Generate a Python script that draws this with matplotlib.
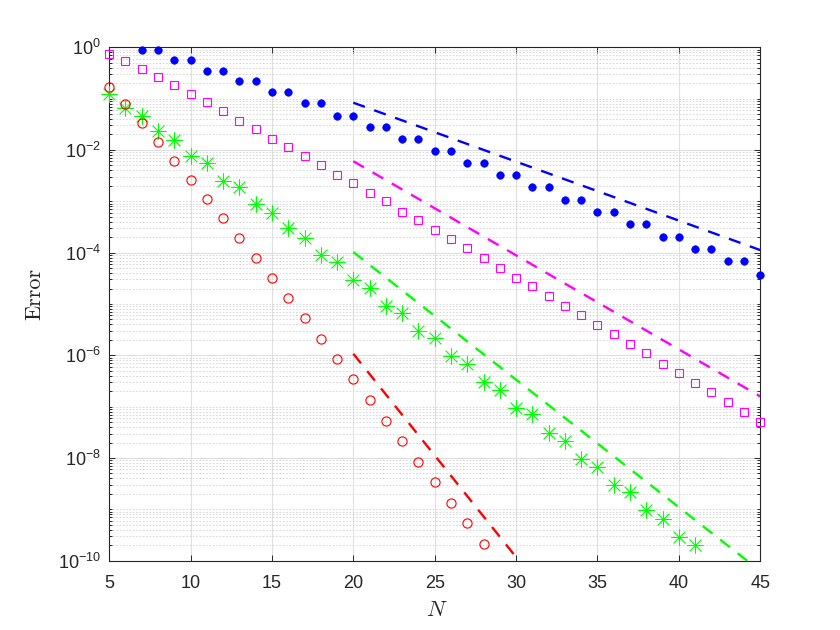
import numpy as np
import matplotlib
matplotlib.use("Agg")
import matplotlib.pyplot as plt
from matplotlib.path import Path
from matplotlib.ticker import FixedLocator, FuncFormatter, NullFormatter

plt.rcParams['font.family'] = ['Liberation Sans', 'DejaVu Sans']
plt.rcParams['mathtext.default'] = 'regular'

# ---------------- data (log10 of error) ----------------
N_blue = [7, 8, 9, 10, 11, 12, 13, 14, 15, 16, 17, 18, 19, 20, 21, 22, 23, 24, 25, 26,
          27, 28, 29, 30, 31, 32, 33, 34, 35, 36, 37, 38, 39, 40, 41, 42, 43, 44, 45]
log_blue = [-0.05, -0.05, -0.25, -0.25, -0.46, -0.46, -0.66, -0.66, -0.88, -0.88,
            -1.09, -1.09, -1.335, -1.335, -1.56, -1.56, -1.79, -1.79, -2.02, -2.02,
            -2.26, -2.26, -2.49, -2.49, -2.73, -2.73, -2.98, -2.98, -3.21, -3.21,
            -3.45, -3.45, -3.69, -3.69, -3.93, -3.93, -4.17, -4.17, -4.43]

N_mag = list(range(5, 46))
log_mag = [-0.13, -0.275, -0.43, -0.58, -0.74, -0.91, -1.07, -1.24, -1.43, -1.60,
           -1.78, -1.95, -2.12, -2.30, -2.48, -2.65, -2.83, -3.00, -3.20, -3.37,
           -3.55, -3.73, -3.91, -4.11, -4.29, -4.49, -4.65, -4.85, -5.03, -5.22,
           -5.40, -5.59, -5.77, -5.96, -6.16, -6.34, -6.53, -6.72, -6.91, -7.10, -7.29]

N_green = list(range(5, 42))
log_green = [-0.92, -1.18, -1.34, -1.63, -1.80, -2.11, -2.26, -2.61, -2.73, -3.05,
             -3.22, -3.53, -3.71, -4.04, -4.19, -4.53, -4.68, -5.03, -5.18, -5.53,
             -5.67, -6.01, -6.16, -6.52, -6.68, -7.03, -7.14, -7.51, -7.67, -8.01,
             -8.18, -8.52, -8.67, -9.02, -9.18, -9.53, -9.69]

N_red = list(range(5, 29))
log_red = [-0.78, -1.11, -1.48, -1.84, -2.21, -2.58, -2.96, -3.32, -3.72, -4.11,
           -4.50, -4.89, -5.28, -5.68, -6.08, -6.47, -6.87, -7.27, -7.67, -8.07,
           -8.47, -8.87, -9.27, -9.67]

# reference (dashed) rate lines: endpoints at N = 20 and N = 45
N_ref = [20, 45]
log_ref_blue = [-1.08, -3.95]
log_ref_mag = [-2.22, -6.80]
log_ref_green = [-3.99, -10.20]
log_ref_red = [-5.97, -15.87]

x_ticks = [5, 10, 15, 20, 25, 30, 35, 40, 45]
y_tick_exps = [-10, -8, -6, -4, -2, 0]

# ---------------- figure ----------------
fig = plt.figure(figsize=(8.4, 6.3), dpi=100)
ax = fig.add_axes([0.13, 0.11, 0.775, 0.815])
ax.set_yscale('log')

def p10(a):
    return 10.0 ** np.asarray(a, dtype=float)

# MATLAB-like asterisk marker
d = 0.7071
star = Path([(-1, 0), (1, 0), (0, -1), (0, 1), (-d, -d), (d, d), (-d, d), (d, -d)],
            [Path.MOVETO, Path.LINETO] * 4)

dash = (5.2, 4.2)
lw_ref = 1.7
ax.plot(N_ref, p10(log_ref_blue), color='#0000FF', lw=lw_ref, dashes=dash, zorder=3)
ax.plot(N_ref, p10(log_ref_mag), color='#FF00FF', lw=lw_ref, dashes=dash, zorder=3)
ax.plot(N_ref, p10(log_ref_green), color='#00FF00', lw=lw_ref, dashes=dash, zorder=3)
ax.plot(N_ref, p10(log_ref_red), color='#FF0000', lw=lw_ref, dashes=dash, zorder=3)

ax.plot(N_blue, p10(log_blue), ls='none', marker='o', ms=5.4, mfc='#0000FF',
        mec='#0000FF', mew=0.5, clip_on=False, zorder=4)
ax.plot(N_mag, p10(log_mag), ls='none', marker='s', ms=5.6, mfc='none',
        mec='#FF00FF', mew=0.8, clip_on=False, zorder=4)
ax.plot(N_green, p10(log_green), ls='none', marker=star, ms=12, mfc='none',
        mec='#00FF00', mew=0.8, clip_on=False, zorder=4)
ax.plot(N_red, p10(log_red), ls='none', marker='o', ms=6.6, mfc='none',
        mec='#FF0000', mew=0.8, clip_on=False, zorder=4)

ax.set_xlim(5, 45)
ax.set_ylim(1e-10, 1e0)

axis_col = '#262626'
ax.set_xticks(x_ticks)
ax.set_xticklabels([str(t) for t in x_ticks])
ax.yaxis.set_major_locator(FixedLocator([10.0 ** e for e in y_tick_exps]))
ax.yaxis.set_major_formatter(FuncFormatter(
    lambda v, pos: r'$10^{%d}$' % int(round(np.log10(v)))))
minor = []
for e in range(-10, 0):
    for k in range(1, 10):
        if k == 1 and e % 2 == 0:
            continue
        minor.append(k * 10.0 ** e)
ax.yaxis.set_minor_locator(FixedLocator(minor))
ax.yaxis.set_minor_formatter(NullFormatter())
ax.xaxis.set_minor_locator(FixedLocator([]))

ax.tick_params(axis='both', which='both', direction='in', top=True, right=True,
               colors=axis_col, labelcolor=axis_col, width=0.7)
ax.tick_params(axis='both', which='major', length=4, labelsize=13)
ax.tick_params(axis='y', which='minor', length=2.2)
ax.tick_params(axis='x', which='major', pad=10)
ax.tick_params(axis='y', which='major', pad=6)

for s in ax.spines.values():
    s.set_color(axis_col)
    s.set_linewidth(0.8)

ax.set_axisbelow(True)
ax.grid(True, which='major', axis='both', color='#dfdfdf', lw=0.8, ls='-')
ax.grid(True, which='minor', axis='y', color='#d2d2d2', lw=0.6, ls=(0, (2, 2)))

ax.set_xlabel('N', family='cmmi10', fontsize=16, color=axis_col, labelpad=6)
ax.set_ylabel('Error', family='cmr10', fontsize=16, color=axis_col)
ax.yaxis.set_label_coords(-0.099, 0.52)

fig.savefig('out.png', dpi=100, facecolor='white')
